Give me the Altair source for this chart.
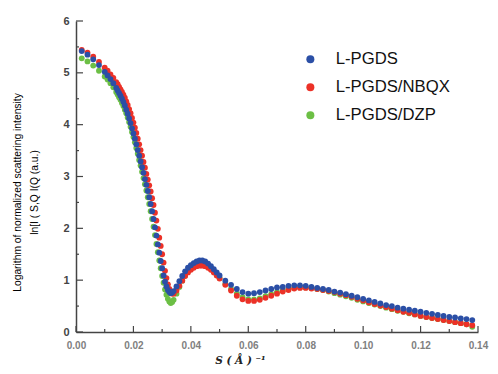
import altair as alt
import pandas as pd

S = [0.002, 0.004, 0.006, 0.008, 0.010, 0.011, 0.012, 0.013,
     0.0140, 0.0145, 0.0150, 0.0155, 0.0160, 0.0165, 0.0170, 0.0175,
     0.0180, 0.0185, 0.0190, 0.0195, 0.0200, 0.0205, 0.0210, 0.0215,
     0.0220, 0.0225, 0.0230, 0.0235, 0.0240, 0.0245, 0.0250, 0.0255,
     0.0260, 0.0265, 0.0270, 0.0275, 0.0280, 0.0285, 0.0290, 0.0295,
     0.0300, 0.0305, 0.0310, 0.0315, 0.0320, 0.0325, 0.0330, 0.0335,
     0.0340,
     0.035, 0.036, 0.037, 0.038, 0.039, 0.040, 0.041, 0.042,
     0.043, 0.044, 0.045, 0.046, 0.047, 0.048, 0.049, 0.050,
     0.052, 0.054, 0.056, 0.058, 0.060, 0.062, 0.064, 0.066, 0.068, 0.070,
     0.072, 0.074, 0.076, 0.078, 0.080, 0.082, 0.084, 0.086, 0.088, 0.090,
     0.092, 0.094, 0.096, 0.098, 0.100, 0.102, 0.104, 0.106, 0.108, 0.110,
     0.112, 0.114, 0.116, 0.118, 0.120, 0.122, 0.124, 0.126, 0.128, 0.130,
     0.132, 0.134, 0.136, 0.138]

BLUE = [5.42, 5.35, 5.26, 5.15, 5.02, 4.95, 4.88, 4.80,
        4.71, 4.66, 4.61, 4.56, 4.50, 4.44, 4.37, 4.29,
        4.21, 4.12, 4.03, 3.93, 3.83, 3.73, 3.62, 3.51,
        3.40, 3.29, 3.18, 3.07, 2.95, 2.84, 2.72, 2.60,
        2.47, 2.33, 2.18, 2.02, 1.86, 1.69, 1.53, 1.37,
        1.23, 1.09, 0.97, 0.88, 0.81, 0.77, 0.75, 0.76,
        0.79,
        0.88, 0.98, 1.08, 1.17, 1.24, 1.29, 1.33, 1.36,
        1.38, 1.38, 1.36, 1.32, 1.27, 1.21, 1.15, 1.09,
        0.99, 0.91, 0.83, 0.77, 0.74, 0.75, 0.77, 0.80, 0.83, 0.86,
        0.87, 0.89, 0.90, 0.90, 0.89, 0.87, 0.85, 0.83, 0.81, 0.78,
        0.76, 0.73, 0.70, 0.67, 0.64, 0.61, 0.58, 0.55, 0.52, 0.50,
        0.47, 0.45, 0.43, 0.41, 0.39, 0.37, 0.35, 0.33, 0.31, 0.29,
        0.28, 0.26, 0.25, 0.23]

RED = [5.44, 5.39, 5.31, 5.21, 5.10, 5.04, 4.97, 4.90,
       4.82, 4.78, 4.73, 4.68, 4.63, 4.58, 4.52, 4.45,
       4.38, 4.30, 4.22, 4.13, 4.04, 3.94, 3.84, 3.73,
       3.62, 3.51, 3.40, 3.28, 3.17, 3.05, 2.94, 2.83,
       2.71, 2.58, 2.45, 2.30, 2.15, 1.99, 1.82, 1.66,
       1.50, 1.34, 1.18, 1.04, 0.92, 0.83, 0.76, 0.74,
       0.74,
       0.80, 0.89, 0.99, 1.08, 1.15, 1.20, 1.24, 1.27,
       1.28, 1.28, 1.27, 1.24, 1.20, 1.15, 1.09, 1.03,
       0.91, 0.80, 0.70, 0.63, 0.60, 0.60, 0.62, 0.66, 0.70, 0.74,
       0.78, 0.81, 0.84, 0.85, 0.85, 0.84, 0.83, 0.81, 0.79, 0.77,
       0.74, 0.71, 0.68, 0.64, 0.61, 0.57, 0.54, 0.51, 0.48, 0.45,
       0.42, 0.39, 0.37, 0.34, 0.31, 0.29, 0.27, 0.25, 0.23, 0.21,
       0.19, 0.17, 0.15, 0.13]

GREEN = [5.28, 5.22, 5.14, 5.04, 4.93, 4.87, 4.80, 4.72,
         4.63, 4.58, 4.53, 4.48, 4.42, 4.36, 4.29, 4.22,
         4.14, 4.05, 3.96, 3.86, 3.76, 3.66, 3.55, 3.44,
         3.32, 3.21, 3.09, 2.97, 2.85, 2.73, 2.60, 2.47,
         2.33, 2.18, 2.03, 1.87, 1.70, 1.54, 1.38, 1.23,
         1.08, 0.95, 0.82, 0.72, 0.64, 0.59, 0.56, 0.58,
         0.62,
         0.74, 0.87, 0.99, 1.09, 1.17, 1.23, 1.28, 1.31,
         1.32, 1.32, 1.30, 1.27, 1.22, 1.16, 1.10, 1.04,
         0.93, 0.83, 0.74, 0.67, 0.63, 0.63, 0.65, 0.69, 0.73, 0.77,
         0.80, 0.83, 0.85, 0.86, 0.86, 0.85, 0.83, 0.81, 0.78, 0.75,
         0.72, 0.69, 0.66, 0.62, 0.59, 0.56, 0.53, 0.50, 0.47, 0.44,
         0.41, 0.39, 0.36, 0.34, 0.31, 0.29, 0.27, 0.25, 0.23, 0.21,
         0.19, 0.17, 0.15, 0.10]

SERIES = ["L-PGDS", "L-PGDS/NBQX", "L-PGDS/DZP"]
COLORS = ["#2b4fa6", "#ec3127", "#6cbf45"]

X_MAJOR = [0.00, 0.02, 0.04, 0.06, 0.08, 0.10, 0.12, 0.14]
X_MINOR = [0.01, 0.03, 0.05, 0.07, 0.09, 0.11, 0.13]
Y_MAJOR = [0, 1, 2, 3, 4, 5, 6]
Y_MINOR = [0.5, 1.5, 2.5, 3.5, 4.5, 5.5]

rows = []
idx = 0
for name, vals in [("L-PGDS/DZP", GREEN), ("L-PGDS/NBQX", RED), ("L-PGDS", BLUE)]:
    for s, v in zip(S, vals):
        rows.append({"s": s, "v": v, "series": name, "idx": idx})
        idx += 1
df = pd.DataFrame(rows)

xs = alt.Scale(domain=[0, 0.14], nice=False, zero=False)
ys = alt.Scale(domain=[0, 6], nice=False)

W, H = 402, 311

points = alt.Chart(df).mark_circle(size=34, opacity=1).encode(
    x=alt.X("s:Q", scale=xs, axis=alt.Axis(
        values=X_MAJOR, format=".2f", ticks=False, grid=False, labelFlush=False,
        labelColor="#808080", labelFontWeight="bold", labelFontSize=10,
        labelFont="Liberation Sans", labelPadding=8,
        domainColor="#444444", domainWidth=1.5,
        title="S ( Å ) ⁻¹", titleFont="DejaVu Serif", titleFontStyle="italic",
        titleFontSize=10.5, titleFontWeight="bold", titleColor="#222222",
        titleX=164, titleY=28, titleAnchor="middle", titleAlign="center",
        titleBaseline="middle")),
    y=alt.Y("v:Q", scale=ys, axis=alt.Axis(
        values=Y_MAJOR, format="d", ticks=False, grid=False,
        labelColor="#444444", labelFontWeight="bold", labelFontSize=11,
        labelFont="Liberation Sans", labelPadding=7,
        domainColor="#444444", domainWidth=1.5,
        title=["Logarithm of normalized scattering intensity", "ln[I ( S,Q   I(Q   (a.u.)"],
        titleFont="Liberation Sans", titleFontSize=10.3, titleFontWeight="normal",
        titleColor="#000000", titleLineHeight=17,
        titleX=-59, titleY=171, titleAngle=270, titleAlign="center",
        titleBaseline="middle")),
    color=alt.Color("series:N", scale=alt.Scale(domain=SERIES, range=COLORS),
                    legend=alt.Legend(
                        title=None, orient="none", legendX=226, legendY=30,
                        symbolType="circle", symbolSize=64, symbolStrokeWidth=0,
                        labelFontSize=16.7, labelFont="Liberation Sans",
                        labelColor="#111111", labelOffset=17, rowPadding=10,
                        padding=0)),
    order=alt.Order("idx:Q"),
)

xmaj = alt.Chart(pd.DataFrame({"t": X_MAJOR})).mark_rule(color="#444444", strokeWidth=1.2).encode(
    x=alt.X("t:Q", scale=xs), y=alt.value(H), y2=alt.value(H - 6))
xmin = alt.Chart(pd.DataFrame({"t": X_MINOR})).mark_rule(color="#444444", strokeWidth=1.2).encode(
    x=alt.X("t:Q", scale=xs), y=alt.value(H), y2=alt.value(H - 3))
ymaj = alt.Chart(pd.DataFrame({"t": Y_MAJOR})).mark_rule(color="#444444", strokeWidth=1.2).encode(
    y=alt.Y("t:Q", scale=ys), x=alt.value(0), x2=alt.value(7))
ymin = alt.Chart(pd.DataFrame({"t": Y_MINOR})).mark_rule(color="#444444", strokeWidth=1.2).encode(
    y=alt.Y("t:Q", scale=ys), x=alt.value(0), x2=alt.value(3))

chart = alt.layer(points, xmaj, xmin, ymaj, ymin).properties(
    width=W, height=H,
    autosize=alt.AutoSizeParams(type="none"),
    padding={"left": 68, "top": 13, "right": 12, "bottom": 34},
    background="white",
).configure_view(stroke=None)

chart.save("out.html", embed_options={"renderer": "svg", "actions": False})
